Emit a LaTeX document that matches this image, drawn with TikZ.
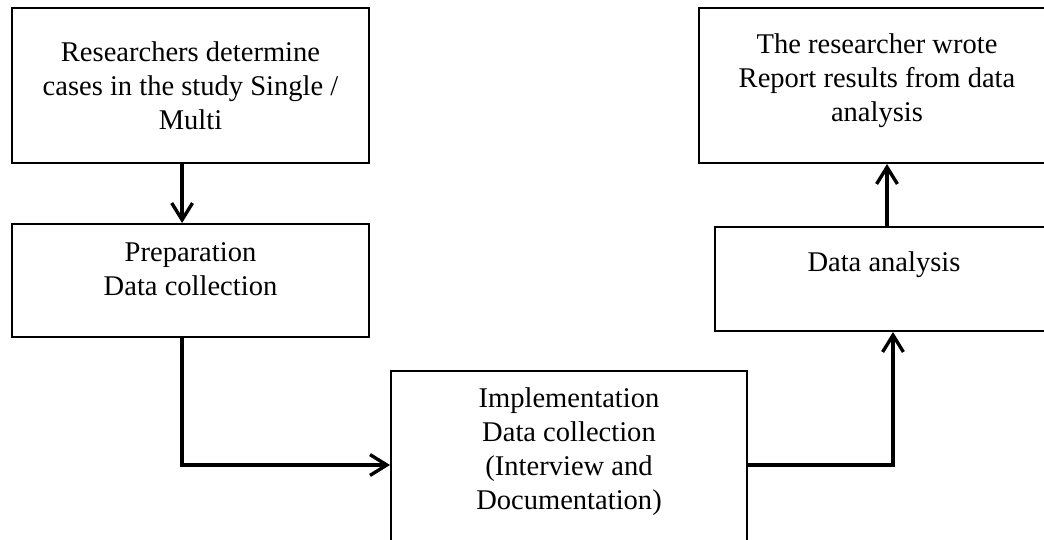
\documentclass[tikz,border=0pt]{standalone}
\usepackage{fontspec}
\setmainfont{Liberation Serif}
\usetikzlibrary{arrows.meta,positioning}
\tikzset{
  stepbox/.style={draw, line width=1.4pt, inner sep=0pt},
  steptext/.style={align=center, inner sep=0pt, font=\fontsize{20.3}{24.2}\selectfont},
  flow/.style={line width=2.4pt, -{Straight Barb[length=0.42cm,width=0.52cm]}}
}
\begin{document}
\begin{tikzpicture}
	\useasboundingbox (0,0) rectangle (26.1,13.475);
	
	% Kaesten
	\node[stepbox, minimum width=8.925cm, minimum height=3.875cm] (cases) at (4.7625,11.3375) {};
	\node[stepbox, minimum width=8.925cm, minimum height=2.825cm] (prep) at (4.7625,6.4625) {};
	\node[stepbox, minimum width=8.9cm, minimum height=4.7cm] (impl) at (14.225,1.85) {};
	\node[stepbox, minimum width=8.45cm, minimum height=2.6cm] (ana) at (22.1,6.5) {};
	\node[stepbox, minimum width=8.9cm, minimum height=3.875cm] (report) at (21.925,11.3375) {};
	
	% Texte
	\node[steptext, below=0.86cm of cases.north] (cases-t) {Researchers determine\\cases in the study Single /\\Multi};
	\node[steptext, below=0.49cm of prep.north] (prep-t) {Preparation\\Data collection};
	\node[steptext, below=0.44cm of impl.north] (impl-t) {Implementation\\Data collection\\(Interview and\\Documentation)};
	\node[steptext, below=0.64cm of ana.north] (ana-t) {Data analysis};
	\node[steptext, below=0.66cm of report.north] (report-t) {The researcher wrote\\Report results from data\\analysis};
	
	% Pfeile
	\draw[flow] ([xshift=-0.21cm]cases.south) -- ([xshift=-0.21cm]prep.north);
	\draw[flow] ([xshift=-0.21cm]prep.south) |- (impl.west);
	\draw[flow] (impl.east) -| ([xshift=0.225cm]ana.south);
	\draw[flow] ([xshift=0.075cm]ana.north) -- ([xshift=0.075cm]ana.north |- report.south);
	
\end{tikzpicture}
\end{document}
